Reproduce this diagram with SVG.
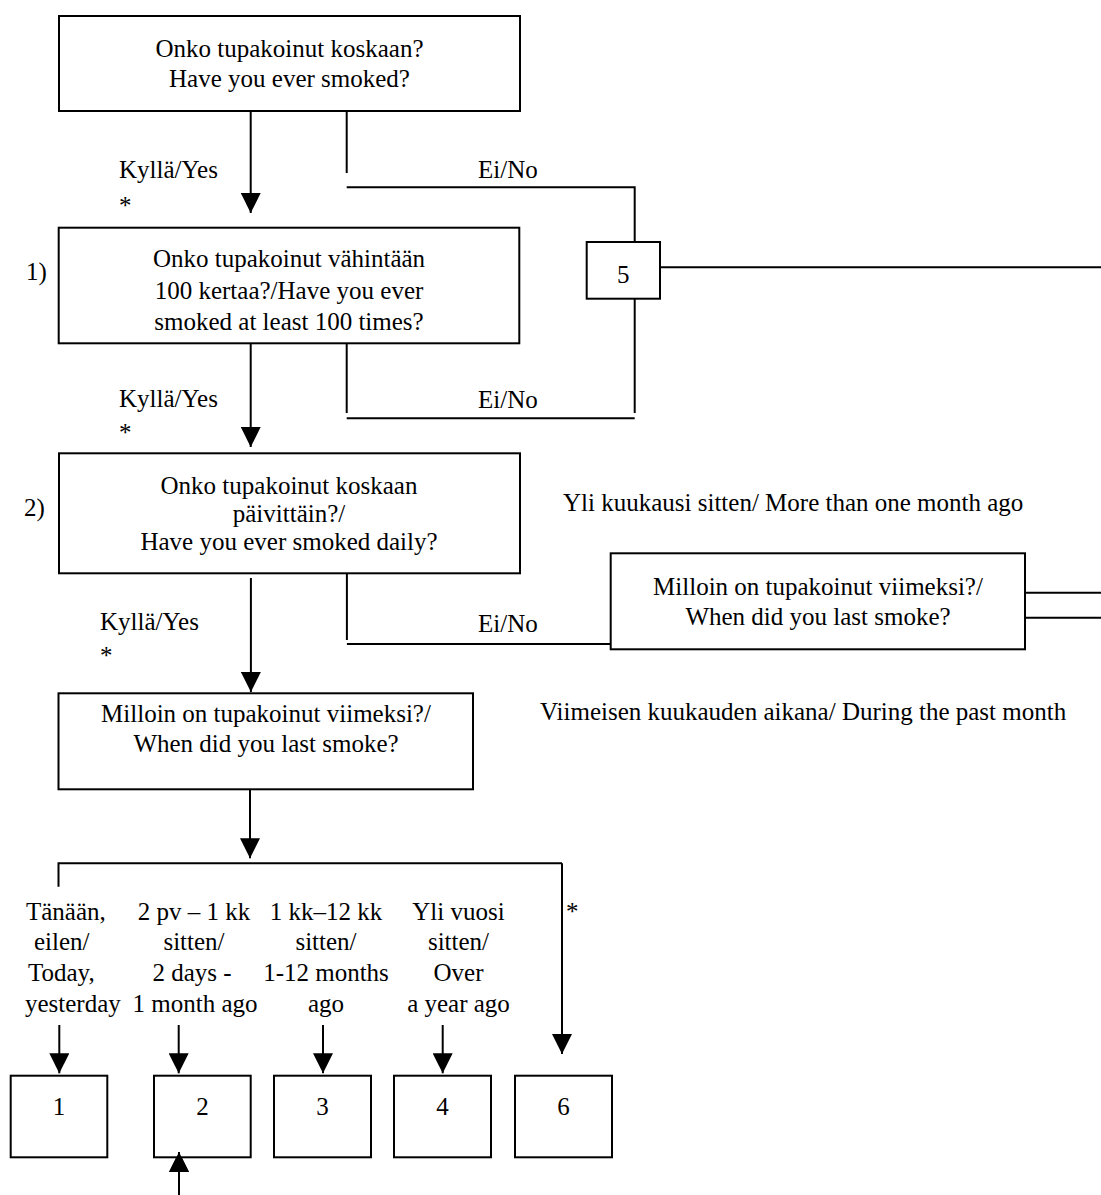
<svg xmlns="http://www.w3.org/2000/svg" width="1101" height="1195" viewBox="0 0 1101 1195">
<style>
  .box { fill: #ffffff; stroke: #000000; stroke-width: 2; }
  .ln { fill: none; stroke: #000000; stroke-width: 2; }
  text { font-family: "Liberation Serif", "Times New Roman", serif; font-size: 25px; fill: #000000; }
  .c { text-anchor: middle; }
</style>
<defs>
  <marker id="ah" markerUnits="userSpaceOnUse" markerWidth="20" markerHeight="20" refX="20" refY="10" orient="auto">
    <path d="M0,0 L20,10 L0,20 z" fill="#000000"/>
  </marker>
</defs>
<rect width="1101" height="1195" fill="#ffffff"/>

<g id="connectors">
  <line class="ln" x1="250.7" y1="111" x2="250.7" y2="213" marker-end="url(#ah)"/>
  <line class="ln" x1="346.7" y1="111" x2="346.7" y2="173"/>
  <polyline class="ln" points="346.7,187.3 634.7,187.3 634.7,242"/>
  <line class="ln" x1="660" y1="267.3" x2="1101" y2="267.3"/>
  <line class="ln" x1="250.7" y1="343" x2="250.7" y2="447" marker-end="url(#ah)"/>
  <line class="ln" x1="346.7" y1="343" x2="346.7" y2="413"/>
  <line class="ln" x1="634.7" y1="298.7" x2="634.7" y2="413"/>
  <line class="ln" x1="346.7" y1="418.3" x2="634.7" y2="418.3"/>
  <line class="ln" x1="250.9" y1="578" x2="250.9" y2="692" marker-end="url(#ah)"/>
  <line class="ln" x1="346.9" y1="573" x2="346.9" y2="640"/>
  <line class="ln" x1="346.9" y1="644" x2="610.7" y2="644"/>
  <line class="ln" x1="1025" y1="592.7" x2="1101" y2="592.7"/>
  <line class="ln" x1="1025" y1="617.7" x2="1101" y2="617.7"/>
  <line class="ln" x1="250" y1="789.3" x2="250" y2="858.3" marker-end="url(#ah)"/>
  <polyline class="ln" points="58.5,886.7 58.5,863.3 562,863.3"/>
  <line class="ln" x1="562" y1="863.3" x2="562" y2="1054" marker-end="url(#ah)"/>
  <line class="ln" x1="59.3" y1="1025" x2="59.3" y2="1073.3" marker-end="url(#ah)"/>
  <line class="ln" x1="178.7" y1="1025" x2="178.7" y2="1073.3" marker-end="url(#ah)"/>
  <line class="ln" x1="323" y1="1025" x2="323" y2="1073.3" marker-end="url(#ah)"/>
  <line class="ln" x1="442.7" y1="1025" x2="442.7" y2="1073.3" marker-end="url(#ah)"/>
  <line class="ln" x1="179" y1="1195" x2="179" y2="1152" marker-end="url(#ah)"/>
</g>

<g id="labels">
  <text x="119" y="178">Kyllä/Yes</text>
  <text x="119" y="214">*</text>
  <text x="478" y="178">Ei/No</text>
  <text x="26" y="280">1)</text>
  <text x="119" y="407">Kyllä/Yes</text>
  <text x="119" y="441">*</text>
  <text x="478" y="408">Ei/No</text>
  <text x="24" y="516">2)</text>
  <text x="563" y="511">Yli kuukausi sitten/ More than one month ago</text>
  <text x="100" y="630">Kyllä/Yes</text>
  <text x="100" y="664">*</text>
  <text x="478" y="632">Ei/No</text>
  <text x="540" y="720">Viimeisen kuukauden aikana/ During the past month</text>
  <text x="566" y="920">*</text>
  <text x="26" y="920">Tänään,</text>
  <text x="34" y="950">eilen/</text>
  <text x="28" y="981">Today,</text>
  <text x="25" y="1012">yesterday</text>
  <text class="c" x="194" y="920">2 pv – 1 kk</text>
  <text class="c" x="194" y="950">sitten/</text>
  <text class="c" x="192" y="981">2 days -</text>
  <text class="c" x="195" y="1012">1 month ago</text>
  <text class="c" x="326" y="920">1 kk–12 kk</text>
  <text class="c" x="326" y="950">sitten/</text>
  <text class="c" x="326" y="981">1-12 months</text>
  <text class="c" x="326" y="1012">ago</text>
  <text class="c" x="458.5" y="920">Yli vuosi</text>
  <text class="c" x="458.5" y="950">sitten/</text>
  <text class="c" x="458.5" y="981">Over</text>
  <text class="c" x="458.5" y="1012">a year ago</text>
</g>

<g id="q-ever">
  <rect class="box" x="59" y="16" width="461" height="95"/>
  <text class="c" x="289.5" y="57">Onko tupakoinut koskaan?</text>
  <text class="c" x="289.5" y="87">Have you ever smoked?</text>
</g>
<g id="q-100">
  <rect class="box" x="58.7" y="227.7" width="460.6" height="115.6"/>
  <text class="c" x="289" y="267">Onko tupakoinut vähintään</text>
  <text class="c" x="289" y="299">100 kertaa?/Have you ever</text>
  <text class="c" x="289" y="330">smoked at least 100 times?</text>
</g>
<g id="q-daily">
  <rect class="box" x="59" y="453.3" width="461" height="120"/>
  <text class="c" x="289" y="494">Onko tupakoinut koskaan</text>
  <text class="c" x="289" y="522">päivittäin?/</text>
  <text class="c" x="289" y="550">Have you ever smoked daily?</text>
</g>
<g id="q-last-right">
  <rect class="box" x="610.7" y="553.3" width="414.3" height="96"/>
  <text class="c" x="818" y="595">Milloin on tupakoinut viimeksi?/</text>
  <text class="c" x="818" y="625">When did you last smoke?</text>
</g>
<g id="q-last-left">
  <rect class="box" x="58.5" y="693.3" width="414.5" height="96"/>
  <text class="c" x="266" y="722">Milloin on tupakoinut viimeksi?/</text>
  <text class="c" x="266" y="752">When did you last smoke?</text>
</g>
<g id="n5">
  <rect class="box" x="586.7" y="242" width="73.3" height="56.7"/>
  <text class="c" x="623.3" y="283">5</text>
</g>
<g id="n1">
  <rect class="box" x="10.7" y="1075.7" width="96.6" height="81.6"/>
  <text class="c" x="59" y="1115">1</text>
</g>
<g id="n2">
  <rect class="box" x="154" y="1075.7" width="96.7" height="81.6"/>
  <text class="c" x="202.4" y="1115">2</text>
</g>
<g id="n3">
  <rect class="box" x="274" y="1075.7" width="97" height="81.6"/>
  <text class="c" x="322.5" y="1115">3</text>
</g>
<g id="n4">
  <rect class="box" x="394" y="1075.7" width="97" height="81.6"/>
  <text class="c" x="442.5" y="1115">4</text>
</g>
<g id="n6">
  <rect class="box" x="515" y="1075.7" width="97" height="81.6"/>
  <text class="c" x="563.5" y="1115">6</text>
</g>
<g id="arrow-overlay">
  <line class="ln" x1="179" y1="1195" x2="179" y2="1152" marker-end="url(#ah)"/>
</g>
</svg>
